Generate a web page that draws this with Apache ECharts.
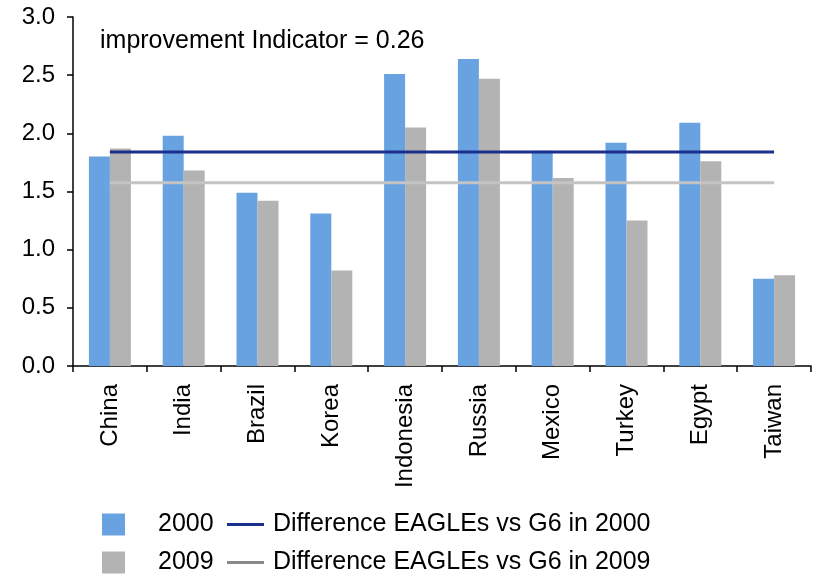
<!DOCTYPE html>
<html>
<head>
<meta charset="utf-8">
<script src="https://cdn.jsdelivr.net/npm/echarts@6/dist/echarts.min.js"></script>
<style>
  html, body { margin: 0; padding: 0; background: #fff; }
  #chart { width: 818px; height: 574px; }
</style>
</head>
<body>
<div id="chart"></div>
<script>
const categories = ["China", "India", "Brazil", "Korea", "Indonesia", "Russia", "Mexico", "Turkey", "Egypt", "Taiwan"]
const values2000 = [1.80, 1.98, 1.49, 1.31, 2.51, 2.64, 1.85, 1.92, 2.09, 0.75]
const values2009 = [1.87, 1.68, 1.42, 0.82, 2.05, 2.47, 1.615, 1.25, 1.76, 0.78]
// difference lines (EAGLEs vs G6), flat across all countries
const diffLine2000 = [1.84, 1.84, 1.84, 1.84, 1.84, 1.84, 1.84, 1.84, 1.84, 1.84]
const diffLine2009 = [1.575, 1.575, 1.575, 1.575, 1.575, 1.575, 1.575, 1.575, 1.575, 1.575]
const yTicks = { min: 0, max: 3, interval: 0.5 }
const note = "improvement Indicator = 0.26"

const font = "'Liberation Sans', Arial, sans-serif"
const blue = "#69a2e0"
const gray = "#b3b3b3"

const chart = echarts.init(document.getElementById("chart"))

const option = {
  animation: false,
  title: {
    text: note,
    left: 100,
    top: 29,
    padding: 0,
    textStyle: { fontFamily: font, fontSize: 25, fontWeight: "normal", color: "#000" },
  },
  legend: [
    {
      data: ["2000", "2009"],
      orient: "vertical",
      left: 102,
      top: 512,
      height: 120,
      padding: 0,
      itemWidth: 23,
      itemHeight: 22,
      itemGap: 13,
      icon: "rect",
      selectedMode: false,
      textStyle: { fontFamily: font, fontSize: 25, color: "#000", padding: [0, 0, 0, 28] },
    },
    {
      data: [
        { name: "Difference EAGLEs vs G6 in 2000" },
        { name: "Difference EAGLEs vs G6 in 2009", itemStyle: { color: "#8a8a8a" } },
      ],
      orient: "vertical",
      left: 227,
      top: 512,
      height: 120,
      padding: 0,
      itemWidth: 37,
      itemHeight: 3,
      itemGap: 13,
      icon: "rect",
      selectedMode: false,
      textStyle: { fontFamily: font, fontSize: 25, color: "#000", padding: [0, 0, 0, 4] },
    },
  ],
  grid: {
    left: 73,
    right: 7,
    top: 17,
    bottom: 208,
    containLabel: false,
  },
  xAxis: {
    type: "category",
    data: categories,
    boundaryGap: true,
    axisLine: { show: true, lineStyle: { color: "#000", width: 1.5 } },
    axisTick: { show: true, length: 6, lineStyle: { color: "#000", width: 1.5 } },
    axisLabel: {
      rotate: 90,
      margin: 18,
      interval: 0,
      fontFamily: font,
      fontSize: 24,
      color: "#000",
    },
    splitLine: { show: false },
  },
  yAxis: {
    type: "value",
    min: yTicks.min,
    max: yTicks.max,
    interval: yTicks.interval,
    axisLine: { show: true, lineStyle: { color: "#000", width: 1.5 } },
    axisTick: { show: true, length: 6, lineStyle: { color: "#000", width: 1.5 } },
    axisLabel: {
      margin: 18,
      fontFamily: font,
      fontSize: 24,
      color: "#000",
      formatter: (v) => v.toFixed(1),
    },
    splitLine: { show: false },
  },
  series: [
    {
      name: "2000",
      type: "bar",
      data: values2000,
      barWidth: 21,
      barGap: "0%",
      itemStyle: { color: blue },
    },
    {
      name: "2009",
      type: "bar",
      data: values2009,
      barWidth: 21,
      barGap: "0%",
      itemStyle: { color: gray },
    },
    {
      name: "Difference EAGLEs vs G6 in 2000",
      type: "line",
      data: diffLine2000,
      symbol: "none",
      z: 5,
      lineStyle: { color: "#1b2f8c", width: 3 },
      itemStyle: { color: "#1b2f8c" },
    },
    {
      name: "Difference EAGLEs vs G6 in 2009",
      type: "line",
      data: diffLine2009,
      symbol: "none",
      z: 5,
      lineStyle: { color: "#c4c4c4", width: 3 },
      itemStyle: { color: "#c4c4c4" },
    },
  ],
}

chart.setOption(option)
</script>
</body>
</html>
